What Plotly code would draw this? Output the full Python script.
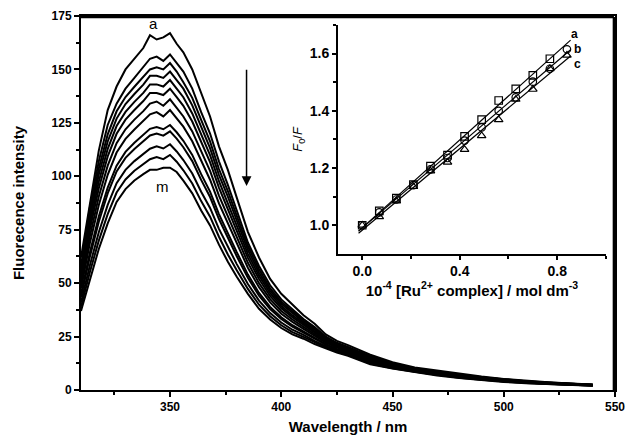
import numpy as np
import plotly.graph_objects as go

# ---------------- main spectra data ----------------
wavelength = [310, 314, 318, 322, 326, 330, 334, 338, 341, 344, 347, 350, 353, 356, 360, 364,
              368, 372, 376, 380, 385, 390, 395, 400, 405, 410, 415, 420, 425, 430, 440, 450,
              460, 470, 480, 490, 500, 510, 520, 530, 540]

curve_a = [62, 88, 112, 131, 142, 150, 155, 160, 166, 164, 165, 167, 162, 158, 150, 139, 128, 114, 103, 90, 74, 62, 52, 45, 40, 35, 31, 26, 23, 21, 16.5, 13, 10.5, 9, 7.5, 6.3, 5.2, 4.3, 3.6, 3.0, 2.6]
curve_b = [58, 85.6, 107, 124, 134, 141, 146, 151, 155, 156, 154, 157, 153, 149, 141, 130, 120, 107, 96, 84, 69, 58, 49, 42.4, 37.8, 33.2, 29.5, 25, 22.1, 20.2, 15.8, 12.5, 10.2, 8.65, 7.2, 6.0, 5.0, 4.1, 3.5, 2.9, 2.5]
curve_c = [56.3, 82.8, 103.7, 119.6, 130.4, 137.1, 141.9, 146.4, 150, 151, 150, 153, 149, 144, 136.7, 126.4, 116.3, 103.4, 93.1, 81.5, 67.3, 56.5, 47.6, 41.3, 36.8, 32.5, 28.8, 24.5, 21.7, 19.85, 15.5, 12.3, 10.0, 8.5, 7.06, 5.9, 4.88, 4.05, 3.4, 2.84, 2.46]
curve_d = [54.8, 80.4, 100.8, 116.3, 127, 133.8, 138.5, 142.9, 147, 147, 146, 149, 145, 141, 133.2, 123, 113.2, 100.7, 90.5, 79.3, 65.6, 55, 46.5, 40.4, 35.9, 31.8, 28.2, 24.1, 21.4, 19.55, 15.2, 12.1, 9.9, 8.4, 6.95, 5.8, 4.8, 4.0, 3.34, 2.8, 2.43]
curve_e = [53.1, 77.8, 97.6, 112.8, 123.5, 130.1, 134.8, 139, 143, 143, 142, 145, 141, 137, 129.4, 119.5, 109.9, 97.7, 87.7, 76.9, 63.7, 53.5, 45.3, 39.3, 35, 31.1, 27.6, 23.7, 21, 19.2, 14.9, 11.9, 9.7, 8.2, 6.8, 5.7, 4.7, 3.9, 3.28, 2.75, 2.39]
curve_f = [51.5, 75.2, 94.4, 109.3, 119.9, 126.5, 131, 135.2, 139, 139, 138, 141, 137, 133, 125.6, 115.9, 106.6, 94.7, 84.9, 74.5, 61.8, 51.9, 44, 38.3, 34.1, 30.4, 27, 23.3, 20.7, 18.9, 14.6, 11.7, 9.6, 8.1, 6.7, 5.6, 4.6, 3.84, 3.22, 2.7, 2.35]
curve_g = [49.5, 72, 90.5, 105, 115.5, 122, 126.5, 130.5, 134, 135, 133, 136, 132, 128, 121, 111.5, 102.5, 91, 81.5, 71.5, 59.5, 50, 42.5, 37, 33, 29.5, 26.25, 22.75, 20.25, 18.5, 14.25, 11.5, 9.4, 7.9, 6.55, 5.45, 4.5, 3.75, 3.15, 2.65, 2.3]
curve_h = [47.5, 68.8, 86.6, 100.7, 111.1, 117.5, 121.9, 125.8, 129, 130, 128, 131, 127.2, 123.2, 116.4, 107.1, 98.4, 87.3, 78.1, 68.5, 57.2, 48.1, 41, 35.7, 31.9, 28.6, 25.5, 22.2, 19.8, 18.1, 13.9, 11.3, 9.2, 7.7, 6.4, 5.3, 4.4, 3.66, 3.08, 2.6, 2.25]
curve_i = [44.8, 64.4, 81.2, 94.7, 105, 111.4, 115.7, 119.3, 122.2, 123, 122, 124, 120.6, 116.6, 110, 101, 92.8, 82.3, 73.3, 64.5, 54, 45.4, 38.9, 34, 30.3, 27.4, 24.4, 21.5, 19.2, 17.55, 13.4, 10.9, 9.0, 7.5, 6.2, 5.1, 4.23, 3.54, 2.98, 2.52, 2.19]
curve_j = [43.5, 62.4, 78.7, 92, 102.3, 108.6, 112.8, 116.3, 119.1, 120, 119, 121, 117.6, 113.6, 107.1, 98.3, 90.3, 80, 71.2, 62.6, 52.5, 44.2, 37.9, 33.2, 29.6, 26.9, 24, 21.2, 18.9, 17.3, 13.2, 10.8, 8.9, 7.4, 6.1, 5.05, 4.16, 3.49, 2.93, 2.48, 2.16]
curve_k = [41, 58.4, 73.8, 86.6, 96.8, 103, 107.1, 110.4, 112.9, 114, 113, 115, 111.6, 107.6, 101.3, 92.8, 85.2, 75.4, 66.9, 58.9, 49.6, 41.8, 36, 31.6, 28.2, 25.8, 23, 20.5, 18.4, 16.8, 12.7, 10.5, 8.65, 7.15, 5.9, 4.87, 4.02, 3.38, 2.84, 2.41, 2.1]
curve_l = [39, 55.2, 69.9, 82.3, 92.4, 98.5, 102.6, 105.7, 108, 109, 108, 110, 106.8, 102.8, 96.6, 88.4, 81.1, 71.7, 63.4, 56, 47.3, 39.9, 34.5, 30.3, 27.1, 24.9, 22.3, 20, 17.9, 16.4, 12.4, 10.2, 8.5, 7.0, 5.75, 4.74, 3.9, 3.29, 2.77, 2.36, 2.05]
curve_m = [37, 52, 66, 78, 88, 94, 98, 101, 103, 103, 104, 104, 102, 98, 92, 84, 77, 68, 60, 53, 45, 38, 33, 29, 26, 24, 21.5, 19.5, 17.5, 16, 12, 10, 8.3, 6.8, 5.6, 4.6, 3.8, 3.2, 2.7, 2.3, 2.0]

curves = [curve_a, curve_b, curve_c, curve_d, curve_e, curve_f, curve_g,
          curve_h, curve_i, curve_j, curve_k, curve_l, curve_m]

# ---------------- inset (Stern-Volmer) data ----------------
conc = [0.0, 0.07, 0.14, 0.21, 0.28, 0.35, 0.42, 0.49, 0.56, 0.63, 0.70, 0.77, 0.84]
sv_a = [1.0, 1.05, 1.095, 1.142, 1.207, 1.245, 1.311, 1.369, 1.436, 1.477, 1.524, 1.582]
sv_b = [1.0, 1.045, 1.09, 1.14, 1.195, 1.235, 1.296, 1.342, 1.40, 1.447, 1.502, 1.547, 1.615]
sv_c = [1.0, 1.03, 1.085, 1.135, 1.19, 1.22, 1.265, 1.313, 1.369, 1.44, 1.475, 1.547, 1.594]

FONT = "Liberation Sans, Arial, sans-serif"
BLACK = "#000000"

fig = go.Figure()

for ys in curves:
    fig.add_trace(go.Scatter(x=wavelength, y=ys, mode="lines",
                             line=dict(color=BLACK, width=2),
                             showlegend=False, hoverinfo="skip"))

# inset fits and markers
fit_x = np.array([-0.015, 0.855])
for xs_, ys_, sym in [(conc[:len(sv_a)], sv_a, "square-open"),
                      (conc, sv_b, "circle-open"),
                      (conc, sv_c, "triangle-up-open")]:
    k, b0 = np.polyfit(xs_, ys_, 1)
    fig.add_trace(go.Scatter(x=fit_x, y=k * fit_x + b0, mode="lines",
                             line=dict(color=BLACK, width=1.2),
                             xaxis="x2", yaxis="y2", showlegend=False, hoverinfo="skip"))
    fig.add_trace(go.Scatter(x=xs_, y=ys_, mode="markers",
                             marker=dict(symbol=sym, size=7.5, color=BLACK,
                                         line=dict(width=1.2, color=BLACK)),
                             xaxis="x2", yaxis="y2", showlegend=False, hoverinfo="skip"))


def tickfont(size):
    return dict(family=FONT, size=size, color=BLACK, weight="bold")


axis_common = dict(showgrid=False, zeroline=False, showline=True, linecolor=BLACK,
                   ticks="outside", tickcolor=BLACK, automargin=False,
                   ticklabeloverflow="allow")

fig.update_layout(
    width=625, height=442,
    margin=dict(l=81, r=10, t=16, b=52),
    paper_bgcolor="white", plot_bgcolor="white",
    font=dict(family=FONT, color=BLACK),
    xaxis=dict(range=[310, 550], tickmode="array", tickvals=[350, 400, 450, 500, 550],
               mirror=True, linewidth=2, ticklen=5, tickwidth=2, tickfont=tickfont(12),
               minor=dict(tickmode="array", tickvals=[325, 375, 425, 475, 525],
                          ticklen=3, tickwidth=2, tickcolor=BLACK, ticks="outside"),
               title=dict(text="Wavelength / nm",
                          font=dict(family=FONT, size=15, weight="bold", color=BLACK),
                          standoff=8),
               **axis_common),
    yaxis=dict(range=[0, 175], tickmode="array", tickvals=[0, 25, 50, 75, 100, 125, 150, 175],
               mirror=True, linewidth=2, ticklen=5, tickwidth=2, tickfont=tickfont(12),
               minor=dict(tickmode="array", tickvals=[12.5, 37.5, 62.5, 87.5, 112.5, 137.5, 162.5],
                          ticklen=3, tickwidth=2, tickcolor=BLACK, ticks="outside"),
               title=dict(text="Fluorecence intensity",
                          font=dict(family=FONT, size=15, weight="bold", color=BLACK),
                          standoff=23),
               **axis_common),
    xaxis2=dict(domain=[0.481, 0.983], anchor="y2", range=[-0.1, 1.0],
                tickmode="array", tickvals=[0.0, 0.4, 0.8], ticktext=["0.0", "0.4", "0.8"],
                linewidth=1.5, ticklen=4, tickwidth=1.5, mirror=False, tickfont=tickfont(14),
                minor=dict(tickmode="array", tickvals=[0.2, 0.6, 1.0], ticklen=3,
                           tickwidth=1.5, tickcolor=BLACK, ticks="outside"),
                title=dict(text="10<sup>-4</sup> [Ru<sup>2+</sup> complex] / mol dm<sup>-3</sup>",
                           font=dict(family=FONT, size=15, weight="bold", color=BLACK), standoff=2),
                **axis_common),
    yaxis2=dict(domain=[0.364, 0.976], anchor="x2", range=[0.9, 1.7],
                tickmode="array", tickvals=[1.0, 1.2, 1.4, 1.6], ticktext=["1.0", "1.2", "1.4", "1.6"],
                linewidth=1.5, ticklen=4, tickwidth=1.5, mirror=False, tickfont=tickfont(14),
                minor=dict(tickmode="array", tickvals=[1.1, 1.3, 1.5, 1.7], ticklen=3,
                           tickwidth=1.5, tickcolor=BLACK, ticks="outside"),
                title=dict(text="<i>F</i><sub>0</sub>/<i>F</i>",
                           font=dict(family=FONT, size=13, color=BLACK), standoff=4),
                **axis_common),
)

# frame lines along the top and right of the main plot area, set just inside the edge
fig.add_shape(type="line", xref="paper", yref="paper", x0=0, x1=0.998, y0=0.997, y1=0.997,
              line=dict(color=BLACK, width=2.5), layer="above")
fig.add_shape(type="line", xref="paper", yref="paper", x0=0.998, x1=0.998, y0=0, y1=0.997,
              line=dict(color=BLACK, width=2.5), layer="above")

annotations = [
    dict(x=342.8, y=171.5, xref="x", yref="y", text="a", showarrow=False,
         font=dict(family=FONT, size=15, color=BLACK)),
    dict(x=346.7, y=95, xref="x", yref="y", text="m", showarrow=False,
         font=dict(family=FONT, size=15, color=BLACK)),
    dict(x=384.4, y=95.5, ax=384.4, ay=150.5, xref="x", yref="y", axref="x", ayref="y",
         text="", showarrow=True, arrowhead=2, arrowsize=1.3, arrowwidth=1.5, arrowcolor=BLACK),
    dict(x=0.873, y=1.667, xref="x2", yref="y2", text="a", showarrow=False,
         font=dict(family=FONT, size=12, color=BLACK, weight="bold")),
    dict(x=0.885, y=1.615, xref="x2", yref="y2", text="b", showarrow=False,
         font=dict(family=FONT, size=12, color=BLACK, weight="bold")),
    dict(x=0.885, y=1.563, xref="x2", yref="y2", text="c", showarrow=False,
         font=dict(family=FONT, size=12, color=BLACK, weight="bold")),
]
fig.update_layout(annotations=annotations)

fig.write_html("out.html", config={"displayModeBar": False},
               post_script="document.body.style.margin='0';document.body.style.overflow='hidden';")
